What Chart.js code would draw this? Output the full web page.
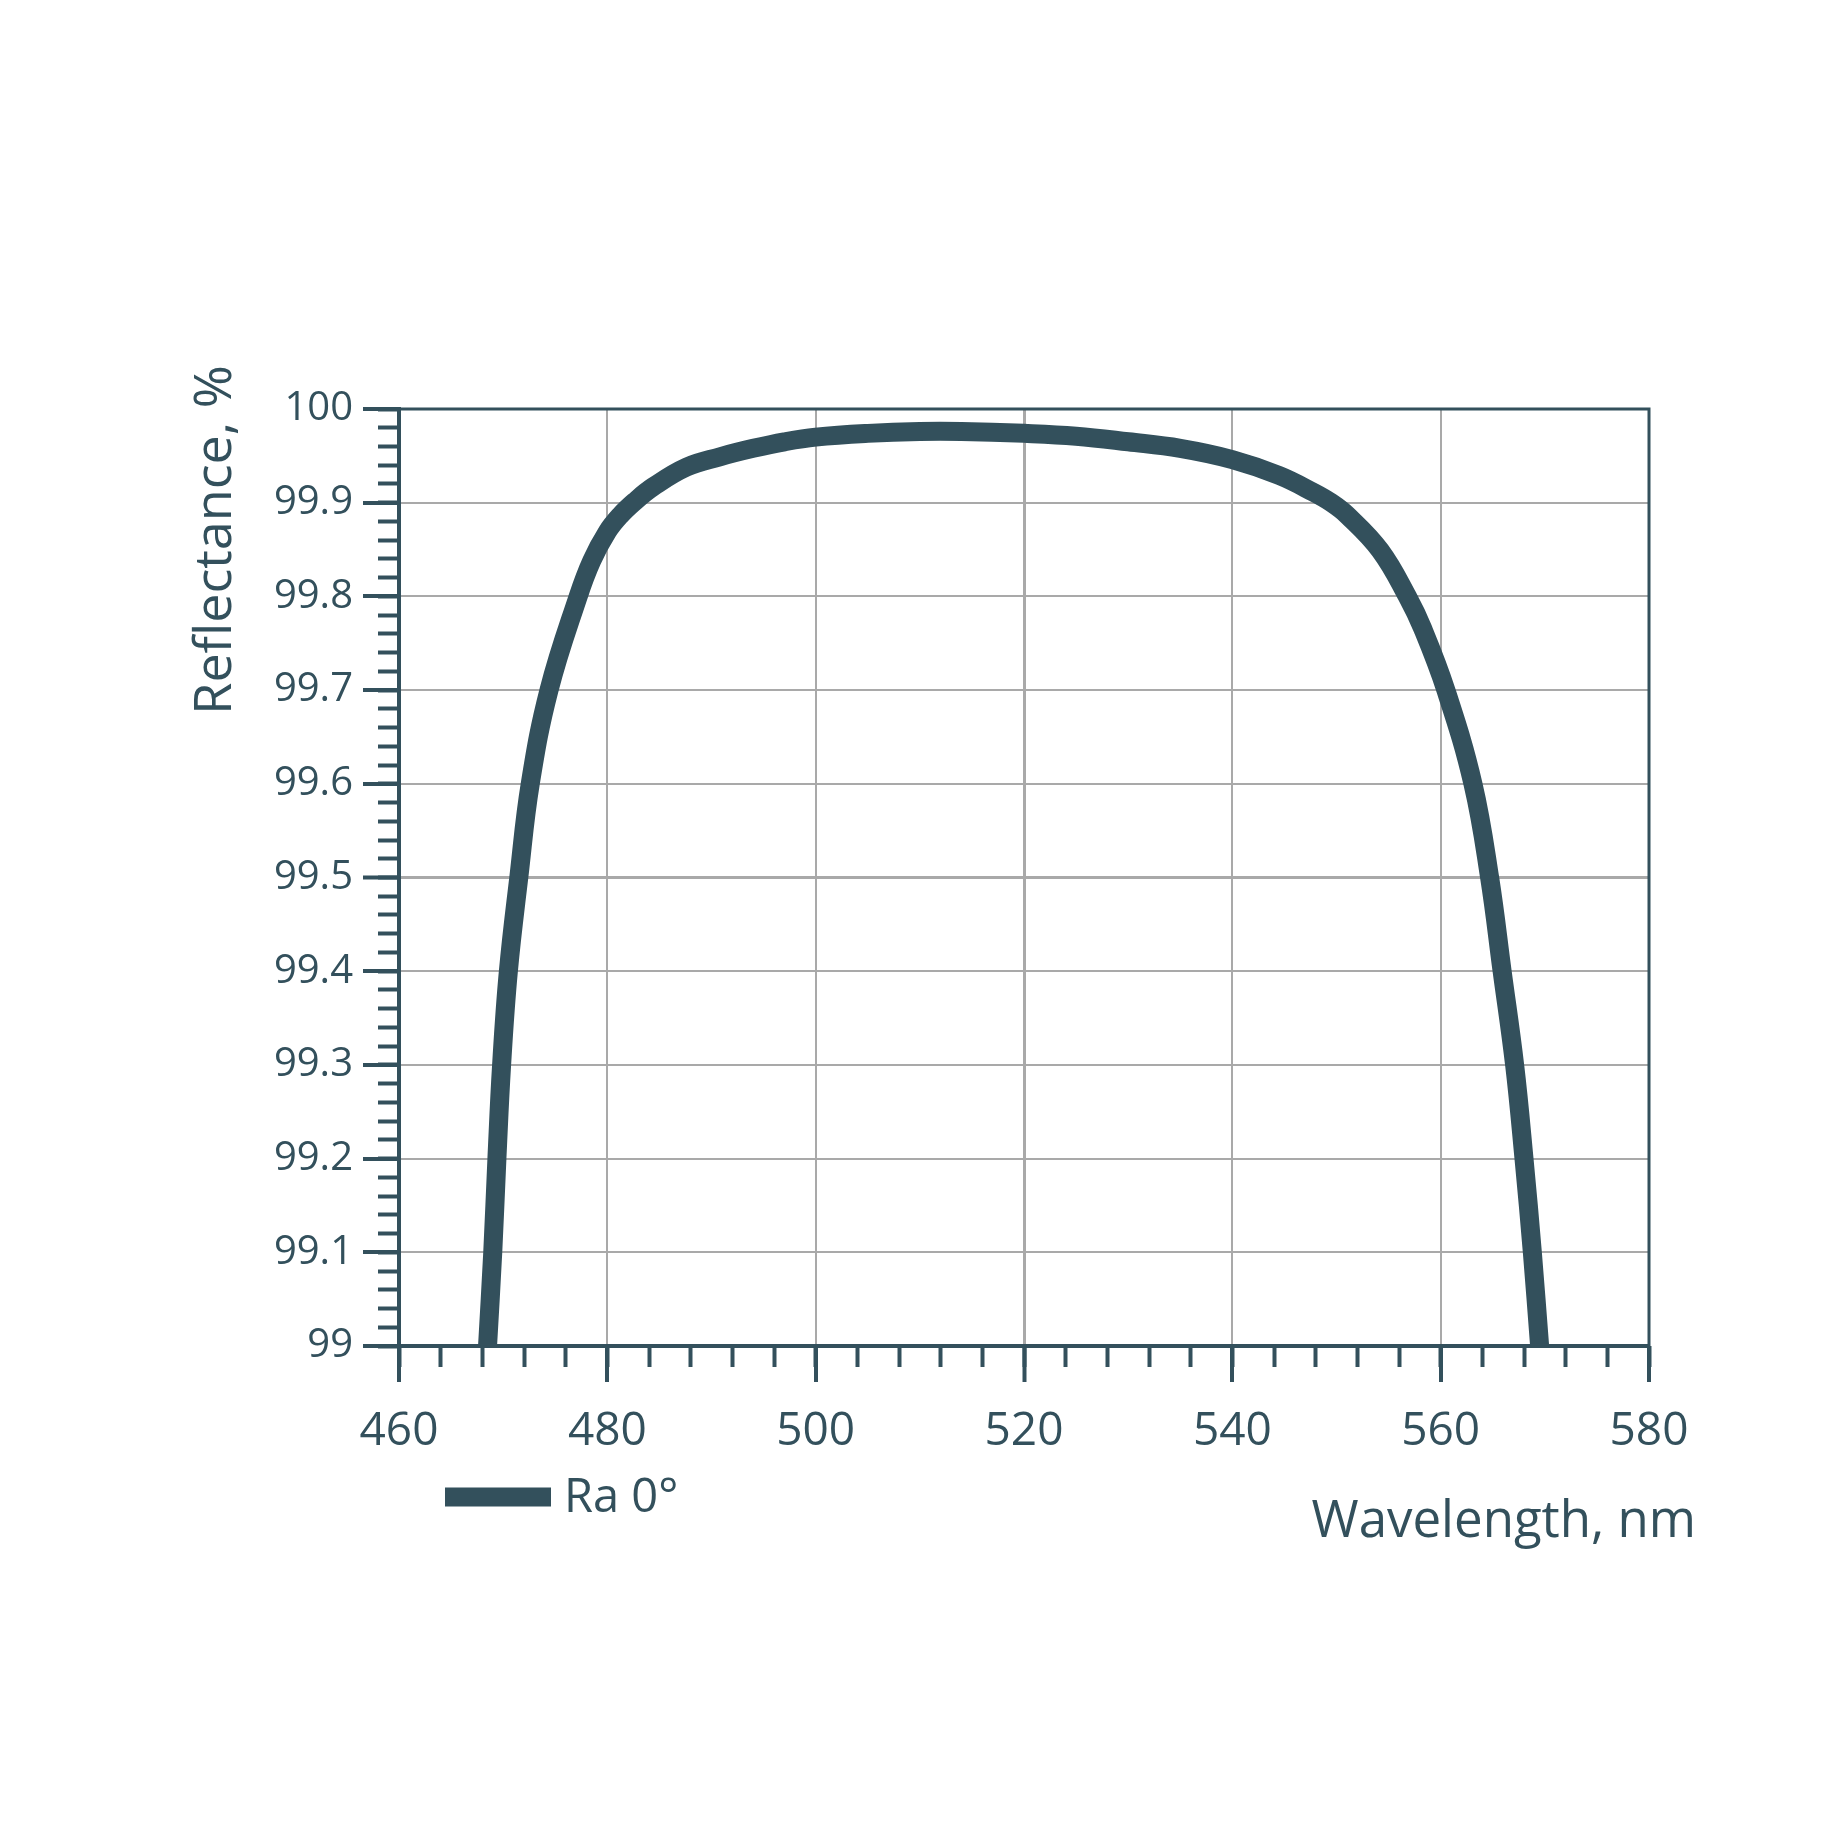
<!DOCTYPE html>
<html>
<head>
<meta charset="utf-8">
<script src="https://cdn.jsdelivr.net/npm/chart.js@4.4.1/dist/chart.umd.min.js"></script>
<style>
  html, body { margin: 0; padding: 0; background: #ffffff; }
  #wrap { width: 1848px; height: 1848px; position: relative; }
</style>
</head>
<body>
<div id="wrap"><canvas id="reflChart"></canvas></div>
<script>
// Reflectance curve
const wavelength = [468.5, 469.0, 469.4, 469.85, 470.5, 471.5, 472.6, 474.4, 477.2, 478.5,
    480.0, 481.2, 482.6, 484.4, 487.6, 490.8, 494.0, 497.0, 500.0, 505.0,
    510.0, 514.0, 520.0, 525.0, 530.0, 535.0, 540.0, 544.5, 547.8, 549.5,
    551.0, 554.2, 556.8, 558.3, 560.5, 563.1, 564.7, 565.9, 567.1, 568.0,
    568.8, 569.5];
const reflectance = [99.0, 99.1, 99.2, 99.3, 99.4, 99.5, 99.6, 99.7, 99.8, 99.838,
    99.869, 99.886, 99.901, 99.917, 99.938, 99.949, 99.958, 99.965, 99.970, 99.974,
    99.976, 99.976, 99.974, 99.971, 99.965, 99.958, 99.946, 99.929, 99.911, 99.9,
    99.887, 99.849, 99.8, 99.765, 99.7, 99.6, 99.5, 99.4, 99.3, 99.2,
    99.1, 99.0];

const xTicks = [460, 480, 500, 520, 540, 560, 580];
const yTicks = [99, 99.1, 99.2, 99.3, 99.4, 99.5, 99.6, 99.7, 99.8, 99.9, 100];
const seriesLabel = "Ra 0°";
const xTitle = "Wavelength, nm";
const yTitle = "Reflectance, %";

const dark = "#33505c";
const gridGray = "#a9a9a9";
const fontFamily = "'Open Sans', 'Noto Sans', sans-serif";

// top/right frame, axis titles and the legend
const decorPlugin = {
    id: "decor",
    afterDraw(chart) {
        const ctx = chart.ctx;
        const area = chart.chartArea;
        ctx.save();

        ctx.strokeStyle = dark;
        ctx.lineWidth = 3;
        ctx.beginPath();
        ctx.moveTo(area.left, area.top);
        ctx.lineTo(area.right, area.top);
        ctx.lineTo(area.right, area.bottom);
        ctx.stroke();

        ctx.fillStyle = dark;

        // y title, rotated
        ctx.save();
        ctx.translate(231, 540);
        ctx.rotate(-Math.PI / 2);
        ctx.font = "52px " + fontFamily;
        ctx.textAlign = "center";
        ctx.textBaseline = "alphabetic";
        ctx.fillText(yTitle, 0, 0);
        ctx.restore();

        // x title
        ctx.font = "51px " + fontFamily;
        ctx.textAlign = "right";
        ctx.textBaseline = "alphabetic";
        ctx.fillText(xTitle, 1696, 1537);

        // legend
        const ds = chart.data.datasets[0];
        ctx.strokeStyle = ds.borderColor;
        ctx.lineWidth = 19;
        ctx.lineCap = "butt";
        ctx.beginPath();
        ctx.moveTo(445, 1497);
        ctx.lineTo(551, 1497);
        ctx.stroke();
        ctx.font = "47px " + fontFamily;
        ctx.textAlign = "left";
        ctx.fillText(ds.label, 564, 1512);

        ctx.restore();
    }
};

const ctx = document.getElementById("reflChart").getContext("2d");
new Chart(ctx, {
    type: "line",
    data: {
        datasets: [{
            label: seriesLabel,
            data: wavelength.map((w, i) => ({ x: w, y: reflectance[i] })),
            borderColor: dark,
            borderWidth: 19,
            borderCapStyle: "butt",
            borderJoinStyle: "round",
            pointRadius: 0,
            tension: 0.4,
            fill: false,
            clip: 0
        }]
    },
    options: {
        responsive: true,
        maintainAspectRatio: false,
        animation: false,
        devicePixelRatio: 1,
        layout: { padding: { left: 0, top: 409, right: 199, bottom: 402 } },
        plugins: {
            legend: { display: false },
            tooltip: { enabled: false }
        },
        scales: {
            x: {
                type: "linear",
                position: "bottom",
                weight: 1,
                min: 460,
                max: 580,
                afterBuildTicks: s => { s.ticks = xTicks.map(v => ({ value: v })); },
                afterFit: s => { s.height = 100; },
                grid: {
                    color: gridGray,
                    lineWidth: c => (c.tick && c.tick.value === 520 ? 3 : 2),
                    tickLength: 36,
                    tickColor: dark,
                    tickWidth: 4
                },
                border: { color: dark, width: 4 },
                ticks: {
                    color: dark,
                    font: { family: fontFamily, size: 46 },
                    padding: 22,
                    maxRotation: 0,
                    callback: v => String(v)
                }
            },
            xMinor: {
                type: "linear",
                position: "bottom",
                weight: 0,
                min: 460,
                max: 580,
                ticks: { stepSize: 4, display: false },
                afterFit: s => { s.height = 0; },
                grid: { drawOnChartArea: false, tickLength: 21, tickColor: dark, tickWidth: 4 },
                border: { display: false }
            },
            y: {
                type: "linear",
                position: "left",
                weight: 1,
                min: 99,
                max: 100,
                afterBuildTicks: s => { s.ticks = yTicks.map(v => ({ value: v })); },
                afterFit: s => { s.width = 399; },
                grid: {
                    color: gridGray,
                    lineWidth: c => (c.tick && Math.abs(c.tick.value - 99.5) < 1e-6 ? 3 : 2),
                    tickLength: 36,
                    tickColor: dark,
                    tickWidth: 4
                },
                border: { color: dark, width: 4 },
                ticks: {
                    color: dark,
                    font: { family: fontFamily, size: 40 },
                    padding: 10,
                    callback: v => String(Number(v.toFixed(1)))
                }
            },
            yMinor: {
                type: "linear",
                position: "left",
                weight: 0,
                min: 99,
                max: 100,
                ticks: { stepSize: 0.02, display: false },
                afterFit: s => { s.width = 0; },
                grid: { drawOnChartArea: false, tickLength: 21, tickColor: dark, tickWidth: 4 },
                border: { display: false }
            }
        }
    },
    plugins: [decorPlugin]
});
</script>
</body>
</html>
